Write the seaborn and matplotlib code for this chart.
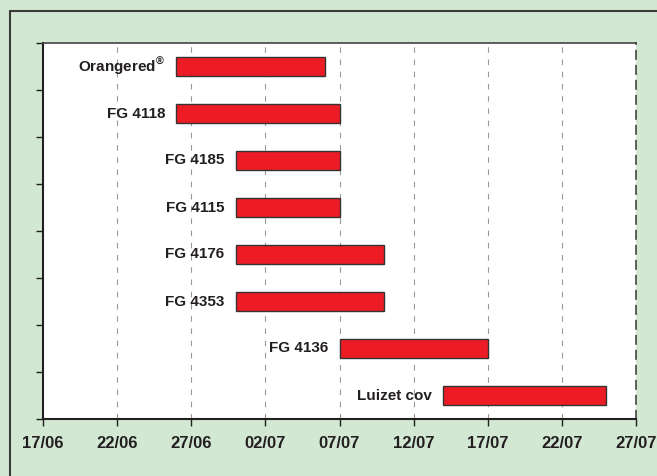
import matplotlib
matplotlib.use("Agg")
import matplotlib.pyplot as plt
import seaborn as sns
import pandas as pd
from matplotlib.lines import Line2D

# varieties and flowering period (days counted from 17/06)
varieties = ['Orangered\u00ae', 'FG 4118', 'FG 4185', 'FG 4115',
             'FG 4176', 'FG 4353', 'FG 4136', 'Luizet cov']
start_day = [9, 9, 13, 13, 13, 13, 20, 27]
end_day = [19, 20, 20, 20, 23, 23, 30, 38]
tick_days = [0, 5, 10, 15, 20, 25, 30, 35, 40]
tick_labels = ['17/06', '22/06', '27/06', '02/07', '07/07',
               '12/07', '17/07', '22/07', '27/07']

df = pd.DataFrame({'Variety': varieties, 'start': start_day, 'end': end_day})
df['duration'] = df['end'] - df['start']

sns.set_style('white')
plt.rcParams['font.family'] = ['Liberation Sans', 'DejaVu Sans']
plt.rcParams['mathtext.fontset'] = 'custom'
plt.rcParams['mathtext.bf'] = 'Liberation Sans:bold'
plt.rcParams['mathtext.rm'] = 'Liberation Sans'

bg = '#d3e8d3'
dark = '#231f20'

fig = plt.figure(figsize=(6.57, 4.76), dpi=100, facecolor=bg)
ax = fig.add_axes([43 / 657, 1 - 419 / 476, (636 - 43) / 657, (419 - 43) / 476])
ax.set_facecolor('white')

sns.barplot(data=df, x='duration', y='Variety', orient='h', left=df['start'],
            color='#ed1c24', saturation=1, width=0.4,
            edgecolor='#333333', linewidth=1.0, ax=ax)

for i, row in df.iterrows():
    label = row['Variety']
    if label.endswith('\u00ae'):
        label = label[:-1] + r'$^{\mathbf{\u00ae}}$'.replace('\\u00ae', '\u00ae')
    ax.annotate(label, xy=(row['start'], i), xytext=(-8, 0),
                textcoords='offset points', ha='right', va='center',
                fontsize=11, fontweight='bold', color=dark)

ax.set_xlim(0, 40)
ax.set_ylim(7.5, -0.5)
ax.set_xticks(tick_days)
ax.set_xticklabels(tick_labels, fontsize=12, fontweight='bold', color=dark)
ax.set_yticks([k - 0.5 for k in range(len(varieties) + 1)])
ax.set_yticklabels([])
ax.set_xlabel('')
ax.set_ylabel('')

ax.tick_params(axis='x', direction='out', length=5, width=1, color=dark, pad=7.5,
               bottom=True)
ax.tick_params(axis='y', direction='out', length=5, width=1, color=dark, left=True)

for d in tick_days[1:-1]:
    ax.axvline(d, color='#999999', lw=0.8, ls=(0, (5, 6)), zorder=0)

ax.spines['left'].set_color(dark)
ax.spines['left'].set_linewidth(1.5)
ax.spines['bottom'].set_color(dark)
ax.spines['bottom'].set_linewidth(1.5)
ax.spines['top'].set_color('#444444')
ax.spines['top'].set_linewidth(1.2)
ax.spines['right'].set_color('#444444')
ax.spines['right'].set_linewidth(1.2)
ax.spines['right'].set_linestyle((0, (5, 4)))

# outer frame (top and left edges visible)
fx, fy = 10 / 657, 1 - 11 / 476
fig.add_artist(Line2D([fx, 1.0], [fy, fy], transform=fig.transFigure,
                      color='#3a3a3a', lw=1.5))
fig.add_artist(Line2D([fx, fx], [0.0, fy], transform=fig.transFigure,
                      color='#3a3a3a', lw=1.5))

fig.savefig('out.png', dpi=100, facecolor=bg)
